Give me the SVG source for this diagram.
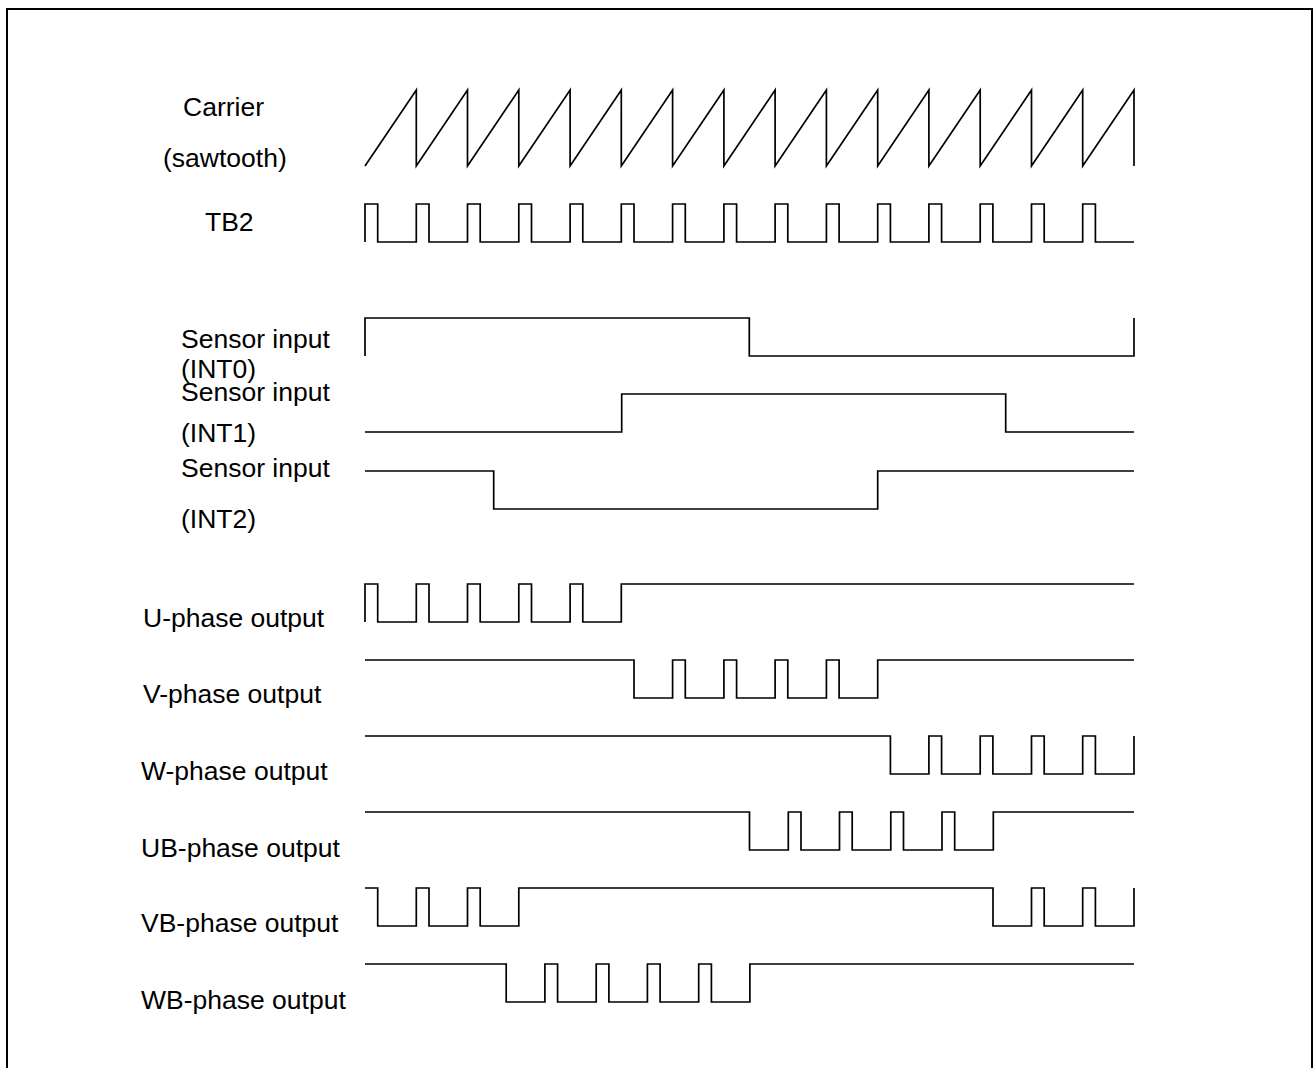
<svg xmlns="http://www.w3.org/2000/svg" width="1316" height="1068" viewBox="0 0 1316 1068">
<style>
.w{fill:none;stroke:#000;stroke-width:1.7;stroke-linejoin:miter}
.t{font-family:"Liberation Sans",Arial,sans-serif;font-size:26.5px;fill:#000}
</style>
<rect x="0" y="0" width="1316" height="1068" fill="#fff"/>
<rect x="7" y="9" width="1305" height="1075" fill="none" stroke="#000" stroke-width="2"/>
<g id="carrier">
<text class="t" x="183" y="116">Carrier</text>
<text class="t" x="163" y="167">(sawtooth)</text>
<path class="w" d="M365,166 L416.3,90 V166 L467.5,90 V166 L518.8,90 V166 L570.1,90 V166 L621.3,90 V166 L672.6,90 V166 L723.9,90 V166 L775.1,90 V166 L826.4,90 V166 L877.7,90 V166 L928.9,90 V166 L980.2,90 V166 L1031.5,90 V166 L1082.7,90 V166 L1134,90 V166"/>
</g>
<g id="tb2">
<text class="t" x="205" y="231">TB2</text>
<path class="w" d="M365,242 V204 H377.7 V242 H416.3 V204 H429 V242 H467.5 V204 H480.2 V242 H518.8 V204 H531.5 V242 H570.1 V204 H582.8 V242 H621.3 V204 H634 V242 H672.6 V204 H685.3 V242 H723.9 V204 H736.6 V242 H775.1 V204 H787.8 V242 H826.4 V204 H839.1 V242 H877.7 V204 H890.4 V242 H928.9 V204 H941.6 V242 H980.2 V204 H992.9 V242 H1031.5 V204 H1044.2 V242 H1082.7 V204 H1095.4 V242 H1134"/>
</g>
<g id="int0">
<text class="t" x="181" y="348">Sensor input</text>
<text class="t" x="181" y="378">(INT0)</text>
<path class="w" d="M365,356 V318 H749.3 V356 H1134 V318"/>
</g>
<g id="int1">
<text class="t" x="181" y="401">Sensor input</text>
<text class="t" x="181" y="442">(INT1)</text>
<path class="w" d="M365,432 H621.7 V394 H1005.7 V432 H1134"/>
</g>
<g id="int2">
<text class="t" x="181" y="477">Sensor input</text>
<text class="t" x="181" y="528">(INT2)</text>
<path class="w" d="M365,471 H493.7 V509 H877.7 V471 H1134"/>
</g>
<g id="u">
<text class="t" x="143" y="627">U-phase output</text>
<path class="w" d="M365,622 V584 H377.7 V622 H416.3 V584 H429 V622 H467.5 V584 H480.2 V622 H518.8 V584 H531.5 V622 H570.1 V584 H582.8 V622 H621.3 V584 H1134"/>
</g>
<g id="v">
<text class="t" x="143" y="703">V-phase output</text>
<path class="w" d="M365,660 H634 V698 H672.6 V660 H685.3 V698 H723.9 V660 H736.6 V698 H775.1 V660 H787.8 V698 H826.4 V660 H839.1 V698 H877.7 V660 H1134"/>
</g>
<g id="w">
<text class="t" x="141" y="780">W-phase output</text>
<path class="w" d="M365,736 H890.4 V774 H928.9 V736 H941.6 V774 H980.2 V736 H992.9 V774 H1031.5 V736 H1044.2 V774 H1082.7 V736 H1095.4 V774 H1134 V736"/>
</g>
<g id="ub">
<text class="t" x="141" y="857">UB-phase output</text>
<path class="w" d="M365,812 H749.5 V850 H788.3 V812 H801 V850 H839.5 V812 H852.2 V850 H890.8 V812 H903.5 V850 H942 V812 H954.7 V850 H993.3 V812 H1134"/>
</g>
<g id="vb">
<text class="t" x="141" y="932">VB-phase output</text>
<path class="w" d="M365,888 H377.7 V926 H416.3 V888 H429 V926 H467.5 V888 H480.2 V926 H518.8 V888 H993 V926 H1031.5 V888 H1044.2 V926 H1082.7 V888 H1095.4 V926 H1134 V888"/>
</g>
<g id="wb">
<text class="t" x="141" y="1009">WB-phase output</text>
<path class="w" d="M365,964 H506.2 V1002 H544.9 V964 H557.6 V1002 H596.2 V964 H608.9 V1002 H647.4 V964 H660.1 V1002 H698.7 V964 H711.4 V1002 H749.9 V964 H1134"/>
</g>
</svg>
